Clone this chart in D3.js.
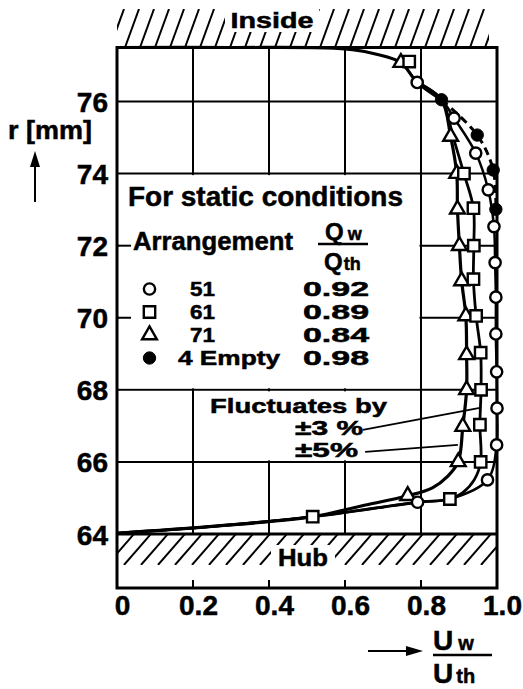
<!DOCTYPE html>
<html><head><meta charset="utf-8">
<script src="https://cdn.jsdelivr.net/npm/d3@7/dist/d3.min.js"></script>
<style>
html,body{margin:0;padding:0;background:#fff;}
svg{display:block;}
text{font-family:"Liberation Sans",Arial,sans-serif;font-weight:bold;fill:#000;stroke:#000;stroke-width:0.5px;}
</style></head>
<body><div id="chart"></div>
<script>
// ---------------- data ----------------
const X_TICKS = [0, 0.2, 0.4, 0.6, 0.8, 1.0];
const X_TICK_LABELS = ["0", "0.2", "0.4", "0.6", "0.8", "1.0"];
const R_TICKS = [64, 66, 68, 70, 72, 74, 76];
const R_TICK_LABELS = ["64", "66", "68", "70", "72", "74", "76"];

const arrangements = ["51", "61", "71", "4 Empty"];
const flowRatios = ["0.92", "0.89", "0.84", "0.98"];

// measured points (U_w/U_th, r in mm)
const u51 = [0.790, 0.887, 0.944, 0.977, 0.992, 0.995, 0.997, 0.997, 0.999, 1.000, 0.999, 0.975, 0.791];
const r51 = [76.53, 75.54, 74.57, 73.55, 72.53, 71.53, 70.57, 69.55, 68.50, 67.49, 66.47, 65.50, 64.88];

const u61 = [0.769, 0.913, 0.938, 0.939, 0.938, 0.945, 0.957, 0.958, 0.955, 0.957, 0.876, 0.515];
const r61 = [77.11, 74.00, 73.04, 72.00, 71.07, 70.05, 69.03, 68.00, 67.03, 66.00, 64.97, 64.48];

const u71 = [0.747, 0.878, 0.894, 0.896, 0.901, 0.907, 0.918, 0.920, 0.920, 0.910, 0.898, 0.765];
const r71 = [77.08, 75.03, 74.00, 73.01, 72.00, 71.02, 70.05, 68.97, 68.00, 66.98, 66.00, 65.06];

const u4 = [0.854, 0.948, 0.990, 0.997];
const r4 = [76.05, 75.07, 74.10, 73.01];

// faired curves drawn through the points
const envU = [0, 0.30, 0.55, 0.62, 0.68, 0.747, 0.79, 0.854];
const envR = [77.5, 77.5, 77.49, 77.44, 77.32, 77.08, 76.53, 76.05];
const tailU = [0.515, 0.25, 0];
const tailR = [64.48, 64.21, 64.02];

const curve51U = [0.79, 0.854, 0.887, 0.944, 0.977, 0.992, 0.995, 0.997, 0.997, 0.999, 1.000, 0.999, 0.975, 0.876, 0.791];
const curve51R = [76.53, 76.05, 75.54, 74.57, 73.55, 72.53, 71.53, 70.57, 69.55, 68.50, 67.49, 66.47, 65.50, 64.97, 64.88];

const curve61U = [0.79, 0.854, 0.885, 0.913, 0.938, 0.939, 0.938, 0.945, 0.957, 0.958, 0.955, 0.957, 0.94, 0.91, 0.876, 0.791];
const curve61R = [76.53, 76.05, 75.00, 74.00, 73.04, 72.00, 71.07, 70.05, 69.03, 68.00, 67.03, 66.00, 65.50, 65.15, 64.97, 64.88];

const curve71U = [0.79, 0.854, 0.878, 0.894, 0.896, 0.901, 0.907, 0.918, 0.920, 0.920, 0.910, 0.898, 0.87, 0.83, 0.765, 0.64];
const curve71R = [76.53, 76.05, 75.03, 74.00, 73.01, 72.00, 71.02, 70.05, 68.97, 68.00, 66.98, 66.00, 65.60, 65.28, 65.06, 64.77];

// annotation leaders (U, r)
const lead3U = [0.647, 0.955], lead3R = [66.89, 67.50];
const lead5U = [0.653, 0.897], lead5R = [66.28, 66.47];

// ---------------- drawing ----------------
const W = 523, H = 689;
const svg = d3.select("#chart").append("svg").attr("width", W).attr("height", H);
svg.append("rect").attr("width", W).attr("height", H).attr("fill", "#fff");

const x = d3.scaleLinear().domain([0, 1]).range([117, 497]);
const y = d3.scaleLinear().domain([62.5, 77.5]).range([588, 47.5]);

const zip = (a, b) => a.map((v, i) => [v, b[i]]);
const line = d3.line().x(d => x(d[0])).y(d => y(d[1])).curve(d3.curveCatmullRom.alpha(0.5));

// hatching
const defs = svg.append("defs");
defs.append("clipPath").attr("id", "clipTop").append("rect")
  .attr("x", x(0)).attr("y", 9).attr("width", 372).attr("height", y(77.5) - 9);
defs.append("clipPath").attr("id", "clipBot").append("rect")
  .attr("x", x(0)).attr("y", y(64)).attr("width", x(1) - x(0)).attr("height", 31);

const gTop = svg.append("g").attr("clip-path", "url(#clipTop)");
d3.range(95, 520, 15).forEach(x0 => {
  gTop.append("line").attr("x1", x0).attr("y1", y(77.5)).attr("x2", x0 + 14).attr("y2", 9)
    .attr("stroke", "#000").attr("stroke-width", 2);
});
const gBot = svg.append("g").attr("clip-path", "url(#clipBot)");
d3.range(90, 520, 17).forEach(x0 => {
  gBot.append("line").attr("x1", x0).attr("y1", y(64) + 31).attr("x2", x0 + 27).attr("y2", y(64))
    .attr("stroke", "#000").attr("stroke-width", 2);
});
svg.append("rect").attr("x", 225).attr("y", 7).attr("width", 94).attr("height", 25).attr("fill", "#fff");
svg.append("text").attr("x", 272).attr("y", 28).attr("text-anchor", "middle")
  .attr("font-size", 22).attr("textLength", 83).attr("lengthAdjust", "spacingAndGlyphs").text("Inside");
svg.append("rect").attr("x", 271).attr("y", 545).attr("width", 64).attr("height", 24).attr("fill", "#fff");
svg.append("text").attr("x", 303).attr("y", 566).attr("text-anchor", "middle")
  .attr("font-size", 23).attr("textLength", 50).attr("lengthAdjust", "spacingAndGlyphs").text("Hub");

// grid
const grid = svg.append("g").attr("stroke", "#000").attr("stroke-width", 2);
X_TICKS.filter(v => v > 0 && v < 1).forEach(v => {
  grid.append("line").attr("x1", x(v)).attr("x2", x(v)).attr("y1", y(64)).attr("y2", y(77.5));
  grid.append("line").attr("x1", x(v)).attr("x2", x(v)).attr("y1", y(62.5)).attr("y2", y(62.5) - 8);
});
R_TICKS.filter(v => v > 64).forEach(v => {
  grid.append("line").attr("x1", x(0)).attr("x2", x(1)).attr("y1", y(v)).attr("y2", y(v));
});

// blank boxes for legend and annotation
svg.append("rect").attr("x", x(0) + 2).attr("y", y(74) + 1.5)
  .attr("width", x(0.8) - x(0) - 3.5).attr("height", y(68) - y(74) - 3).attr("fill", "#fff");
svg.append("rect").attr("x", x(0.2) + 1.5).attr("y", y(68) + 1.5)
  .attr("width", x(0.8) - x(0.2) - 3).attr("height", y(66) - y(68) - 3).attr("fill", "#fff");
[72, 70].forEach(v => {
  svg.append("line").attr("x1", x(0)).attr("x2", x(0) + 14).attr("y1", y(v)).attr("y2", y(v))
    .attr("stroke", "#000").attr("stroke-width", 2);
});

// frame and hub line
svg.append("rect").attr("x", x(0)).attr("y", y(77.5)).attr("width", x(1) - x(0))
  .attr("height", y(62.5) - y(77.5)).attr("fill", "none").attr("stroke", "#000").attr("stroke-width", 3);
svg.append("line").attr("x1", x(0)).attr("x2", x(1)).attr("y1", y(64)).attr("y2", y(64))
  .attr("stroke", "#000").attr("stroke-width", 3);

// axes labels via d3 axes
const yAxis = d3.axisLeft(y).tickValues(R_TICKS).tickSize(0).tickPadding(0)
  .tickFormat((d, i) => R_TICK_LABELS[i]);
const gy = svg.append("g").attr("transform", "translate(108,0)").call(yAxis);
gy.select(".domain").remove();
gy.selectAll("text").attr("font-size", 28).attr("dy", "0.36em").attr("x", 0)
  .attr("font-family", "Liberation Sans").attr("font-weight", "bold").attr("fill", "#000");

const xAxis = d3.axisBottom(x).tickValues(X_TICKS).tickSize(0).tickPadding(0)
  .tickFormat((d, i) => X_TICK_LABELS[i]);
const gx = svg.append("g").attr("transform", "translate(5,615)").call(xAxis);
gx.select(".domain").remove();
gx.selectAll("text").attr("font-size", 28).attr("dy", 0).attr("y", 0)
  .attr("font-family", "Liberation Sans").attr("font-weight", "bold").attr("fill", "#000");

// curves
svg.append("path").attr("d", line(zip(envU, envR))).attr("fill", "none").attr("stroke", "#000").attr("stroke-width", 3.2);
svg.append("path").attr("d", line(zip(curve51U.concat(tailU), curve51R.concat(tailR))))
  .attr("fill", "none").attr("stroke", "#000").attr("stroke-width", 2.5);
svg.append("path").attr("d", line(zip(curve61U.concat(tailU), curve61R.concat(tailR))))
  .attr("fill", "none").attr("stroke", "#000").attr("stroke-width", 2.8);
svg.append("path").attr("d", line(zip(curve71U.concat(tailU), curve71R.concat(tailR))))
  .attr("fill", "none").attr("stroke", "#000").attr("stroke-width", 3.2);
svg.append("path").attr("d", line(zip(u4, r4))).attr("fill", "none").attr("stroke", "#000")
  .attr("stroke-width", 3).attr("stroke-dasharray", "8,5");

// leaders
[[lead3U, lead3R], [lead5U, lead5R]].forEach(([u, r]) => {
  svg.append("path").attr("d", d3.line().x(d => x(d[0])).y(d => y(d[1]))(zip(u, r)))
    .attr("stroke", "#000").attr("stroke-width", 1.8).attr("fill", "none");
});

// markers
const sym = {
  circle: d3.symbol().type(d3.symbolCircle).size(100),
  square: d3.symbol().type(d3.symbolSquare).size(130),
  triangle: d3.symbol().type(d3.symbolTriangle).size(95),
  dot: d3.symbol().type(d3.symbolCircle).size(120)
};
function markers(u, r, kind) {
  svg.append("g").selectAll("path").data(zip(u, r)).join("path")
    .attr("transform", d => `translate(${x(d[0])},${y(d[1])})`)
    .attr("d", sym[kind]())
    .attr("fill", kind === "dot" ? "#000" : "#fff")
    .attr("stroke", "#000").attr("stroke-width", kind === "dot" ? 1 : 2.4);
}
markers(u71, r71, "triangle");
markers(u61, r61, "square");
markers(u51, r51, "circle");
markers(u4, r4, "dot");

// legend
svg.append("text").attr("x", 128).attr("y", 206).attr("font-size", 27).attr("textLength", 275)
  .attr("lengthAdjust", "spacingAndGlyphs").text("For static conditions");
svg.append("text").attr("x", 133).attr("y", 250).attr("font-size", 26).attr("textLength", 160)
  .attr("lengthAdjust", "spacingAndGlyphs").text("Arrangement");
const qw = svg.append("text").attr("x", 325).attr("y", 240).attr("font-size", 24);
qw.append("tspan").text("Q");
qw.append("tspan").attr("font-size", 18).attr("dx", 4).text("w");
svg.append("line").attr("x1", 318).attr("x2", 368).attr("y1", 244).attr("y2", 244).attr("stroke", "#000").attr("stroke-width", 2.5);
const qth = svg.append("text").attr("x", 324).attr("y", 270).attr("font-size", 24);
qth.append("tspan").text("Q");
qth.append("tspan").attr("font-size", 18).attr("dx", 1).text("th");

const rowY = [296, 319, 342, 365];
const kinds = ["circle", "square", "triangle", "dot"];
const labelX = [190, 190, 190, 178];
arrangements.forEach((a, i) => {
  svg.append("path").attr("transform", `translate(149.5,${rowY[i] - 7})`)
    .attr("d", sym[kinds[i]]())
    .attr("fill", kinds[i] === "dot" ? "#000" : "#fff")
    .attr("stroke", "#000").attr("stroke-width", kinds[i] === "dot" ? 1 : 2.4);
  const t = svg.append("text").attr("x", labelX[i]).attr("y", rowY[i]).attr("font-size", 20.5).text(a);
  if (i < 3) t.attr("textLength", 25).attr("lengthAdjust", "spacingAndGlyphs");
  else t.attr("textLength", 102).attr("lengthAdjust", "spacingAndGlyphs");
  svg.append("text").attr("x", 303).attr("y", rowY[i]).attr("font-size", 20.5).attr("textLength", 66)
    .attr("lengthAdjust", "spacingAndGlyphs").text(flowRatios[i]);
});

// annotation text
svg.append("text").attr("x", 210).attr("y", 413).attr("font-size", 21).attr("textLength", 177)
  .attr("lengthAdjust", "spacingAndGlyphs").text("Fluctuates by");
svg.append("text").attr("x", 295).attr("y", 435).attr("font-size", 20).attr("textLength", 68)
  .attr("lengthAdjust", "spacingAndGlyphs").text("±3 %");
svg.append("text").attr("x", 295).attr("y", 457).attr("font-size", 20).attr("textLength", 63)
  .attr("lengthAdjust", "spacingAndGlyphs").text("±5%");

// y title and arrow
svg.append("text").attr("x", 8).attr("y", 139).attr("font-size", 26).attr("textLength", 84)
  .attr("lengthAdjust", "spacingAndGlyphs").text("r [mm]");
svg.append("line").attr("x1", 35).attr("x2", 35).attr("y1", 202).attr("y2", 162).attr("stroke", "#000").attr("stroke-width", 2);
svg.append("path").attr("d", "M35,151 L30,167 L40,167 Z").attr("fill", "#000");

// x title and arrow
svg.append("line").attr("x1", 368).attr("x2", 410).attr("y1", 651).attr("y2", 651).attr("stroke", "#000").attr("stroke-width", 2);
svg.append("path").attr("d", "M423,651 L406,646 L406,656 Z").attr("fill", "#000");
const uw = svg.append("text").attr("x", 433).attr("y", 650).attr("font-size", 28);
uw.append("tspan").text("U");
uw.append("tspan").attr("font-size", 20).attr("dx", 5).text("w");
svg.append("line").attr("x1", 433).attr("x2", 492).attr("y1", 655).attr("y2", 655).attr("stroke", "#000").attr("stroke-width", 2.5);
const uth = svg.append("text").attr("x", 433).attr("y", 683).attr("font-size", 28);
uth.append("tspan").text("U");
uth.append("tspan").attr("font-size", 20).attr("dx", 3).text("th");
</script></body></html>
